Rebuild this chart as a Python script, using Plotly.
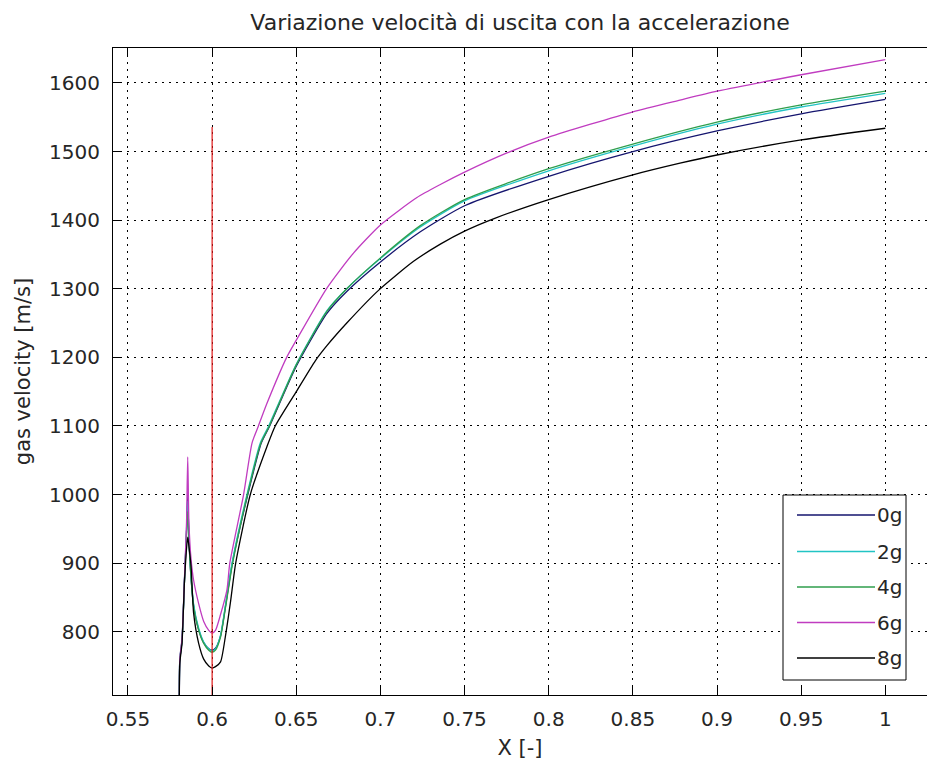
import plotly.graph_objects as go

# --- Gas exit velocity along the nozzle for different accelerations ---
series_names = ["0g", "2g", "4g", "6g", "8g"]
series_colors = ["#14146e", "#22c4c4", "#2f9e4c", "#c03cc0", "#000000"]

x_0g = [0.5805, 0.5808, 0.5821, 0.5836, 0.5848, 0.5855, 0.5862, 0.5875, 0.589, 0.592, 0.595, 0.598, 0.600,
        0.602, 0.605, 0.608, 0.612, 0.6212, 0.6292, 0.6342, 0.650, 0.6682, 0.680, 0.700, 0.7237, 0.750,
        0.800, 0.850, 0.900, 0.950, 1.000]
v_0g = [640, 758, 786, 876, 945, 1000, 935, 878, 838, 803, 784, 775, 773,
        776, 794, 838, 900, 1000, 1075, 1100, 1187, 1264, 1296, 1339, 1383, 1421,
        1464, 1500, 1530, 1555, 1576]

x_2g = [0.5805, 0.5808, 0.5821, 0.5836, 0.5848, 0.5855, 0.5862, 0.5875, 0.589, 0.592, 0.595, 0.598, 0.600,
        0.602, 0.605, 0.608, 0.6118, 0.6207, 0.6286, 0.6336, 0.650, 0.6682, 0.680, 0.700, 0.7237, 0.750,
        0.800, 0.850, 0.900, 0.950, 1.000]
v_2g = [640, 760, 788, 878, 950, 990, 940, 880, 840, 805, 785, 775, 772,
        775, 795, 840, 900, 1000, 1075, 1100, 1190, 1268, 1300, 1344, 1390, 1428,
        1472, 1508, 1540, 1565, 1585]

x_4g = [0.5805, 0.5808, 0.5821, 0.5836, 0.5848, 0.5855, 0.5862, 0.5875, 0.589, 0.592, 0.595, 0.598, 0.600,
        0.602, 0.605, 0.608, 0.6122, 0.6210, 0.6290, 0.6340, 0.650, 0.6682, 0.680, 0.700, 0.7237, 0.750,
        0.800, 0.850, 0.900, 0.950, 1.000]
v_4g = [640, 759, 787, 876, 945, 975, 935, 877, 836, 802, 783, 773, 770,
        773, 792, 836, 900, 1000, 1075, 1100, 1189, 1267, 1300, 1345, 1392, 1430,
        1475, 1511, 1543, 1568, 1588]

x_6g = [0.5805, 0.5808, 0.5821, 0.5836, 0.5848, 0.5855, 0.5862, 0.5875, 0.589, 0.592, 0.595, 0.598, 0.600,
        0.602, 0.605, 0.6088, 0.6105, 0.6187, 0.6237, 0.6275, 0.6326, 0.6445, 0.650, 0.6682, 0.684, 0.700,
        0.7217, 0.7356, 0.750, 0.7752, 0.800, 0.850, 0.878, 0.900, 0.950, 1.000]
v_6g = [640, 760, 790, 880, 960, 1055, 960, 905, 875, 841, 815, 802, 798,
        802, 825, 861, 900, 1000, 1075, 1100, 1133, 1201, 1225, 1301, 1352, 1393,
        1433, 1452, 1470, 1498, 1521, 1558, 1575, 1588, 1612, 1634]

x_8g = [0.5805, 0.5808, 0.5821, 0.5836, 0.5846, 0.5855, 0.5862, 0.5875, 0.589, 0.592, 0.595, 0.598, 0.600,
        0.602, 0.605, 0.608, 0.611, 0.614, 0.6227, 0.6326, 0.6375, 0.650, 0.6613, 0.6682, 0.680, 0.699,
        0.7197, 0.7356, 0.750, 0.7683, 0.800, 0.850, 0.878, 0.900, 0.950, 1.000]
v_8g = [640, 754, 783, 875, 915, 938, 925, 895, 827, 783, 760, 750, 747,
        749, 756, 795, 845, 900, 1000, 1070, 1100, 1150, 1195, 1217, 1250, 1298,
        1340, 1365, 1384, 1403, 1430, 1466, 1483, 1495, 1517, 1534]

series_x = [x_0g, x_2g, x_4g, x_6g, x_8g]
series_v = [v_0g, v_2g, v_4g, v_6g, v_8g]

# throat position marker
throat_x = [0.6, 0.6]
throat_v = [600, 1536]

x_ticks = [0.55, 0.6, 0.65, 0.7, 0.75, 0.8, 0.85, 0.9, 0.95, 1.0]
x_ticklabels = ["0.55", "0.6", "0.65", "0.7", "0.75", "0.8", "0.85", "0.9", "0.95", "1"]
y_ticks = [800, 900, 1000, 1100, 1200, 1300, 1400, 1500, 1600]

FONT = "DejaVu Sans"
TXT = "#262626"

fig = go.Figure()
for xs, vs, name, col in zip(series_x, series_v, series_names, series_colors):
    fig.add_trace(go.Scatter(x=xs, y=vs, mode="lines", name=name,
                             line=dict(color=col, width=1.3, shape="spline", smoothing=0.6),
                             showlegend=False))
fig.add_trace(go.Scatter(x=throat_x, y=throat_v, mode="lines", name="gola",
                         line=dict(color="#e01818", width=1.2), showlegend=False))

# boxed legend in the lower right corner of the axes
W, H = 927, 767
L, R, T, B = 113, 0, 48, 72
pw, ph = W - L - R, H - T - B


def px(xp):
    return (xp - L) / pw


def py(yp):
    return (H - B - yp) / ph


shapes = [dict(type="rect", xref="paper", yref="paper",
               x0=px(783), x1=px(906), y0=py(680), y1=py(495),
               line=dict(color="black", width=1), fillcolor="white", layer="above")]
annotations = []
entry_y = [515, 551.5, 587, 622.5, 658]
for yy, name, col in zip(entry_y, series_names, series_colors):
    shapes.append(dict(type="line", xref="paper", yref="paper",
                       x0=px(797), x1=px(875), y0=py(yy), y1=py(yy),
                       line=dict(color=col, width=1.3), layer="above"))
    annotations.append(dict(text=name, xref="paper", yref="paper", x=px(875), y=py(yy),
                            xanchor="left", yanchor="middle", showarrow=False,
                            font=dict(family=FONT, size=20, color=TXT)))

grid_dash = "2px,5px"
fig.update_layout(
    width=W, height=H,
    margin=dict(l=L, r=R, t=T, b=B, pad=0),
    paper_bgcolor="white", plot_bgcolor="white",
    title=dict(text="Variazione velocità di uscita con la accelerazione",
               x=520 / W, xanchor="center", y=1 - 22 / H, yanchor="middle",
               font=dict(family=FONT, size=22, color=TXT)),
    xaxis=dict(range=[0.5411, 0.5411 + pw / 1683.0], tickvals=x_ticks, ticktext=x_ticklabels,
               ticks="inside", ticklen=8, tickcolor="black", showline=True, linecolor="black",
               linewidth=1, mirror="ticks", showgrid=True, gridcolor="black", gridwidth=1,
               griddash=grid_dash, zeroline=False, ticklabelstandoff=6,
               tickfont=dict(family=FONT, size=20, color=TXT),
               title=dict(text="X [-]", standoff=10, font=dict(family=FONT, size=21, color=TXT))),
    yaxis=dict(range=[707.7, 1651], tickvals=y_ticks,
               ticks="inside", ticklen=8, tickcolor="black", showline=True, linecolor="black",
               linewidth=1, mirror=False, showgrid=True, gridcolor="black", gridwidth=1,
               griddash=grid_dash, zeroline=False, ticklabelstandoff=8,
               tickfont=dict(family=FONT, size=20, color=TXT),
               title=dict(text="gas velocity [m/s]", standoff=12,
                          font=dict(family=FONT, size=21, color=TXT))),
    shapes=shapes,
    annotations=annotations,
    showlegend=False,
)

fig.write_html("out.html")
